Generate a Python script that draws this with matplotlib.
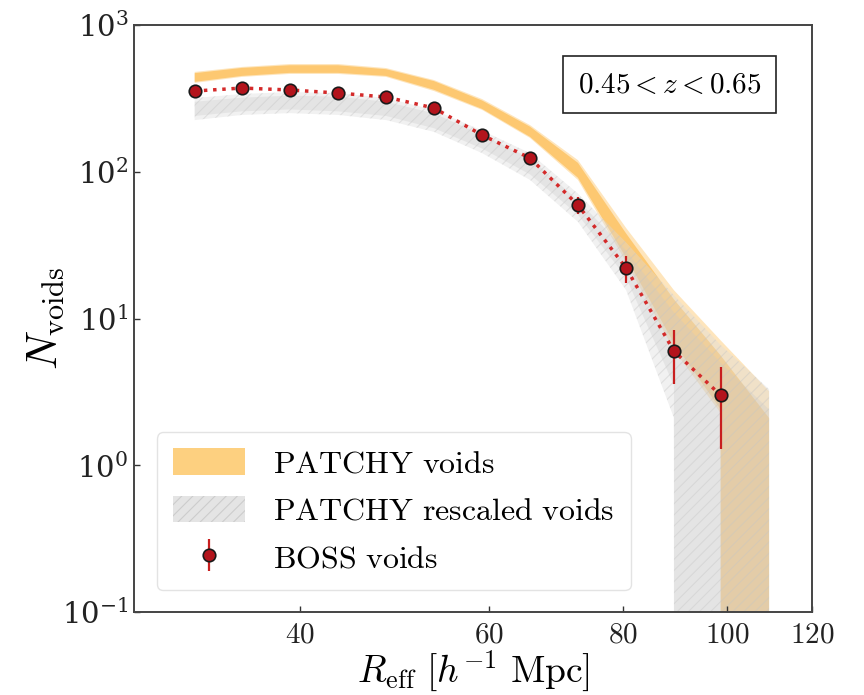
import matplotlib
matplotlib.use("Agg")
import matplotlib.pyplot as plt
from matplotlib.patches import Patch
from matplotlib.ticker import FixedLocator, FixedFormatter, NullLocator

plt.rcParams['mathtext.fontset'] = 'cm'
plt.rcParams['font.family'] = 'serif'
plt.rcParams['font.serif'] = ['DejaVu Serif']
plt.rcParams['hatch.color'] = '#c4c4c4'
plt.rcParams['hatch.linewidth'] = 0.8

# bin centres of the void radius histogram [Mpc/h]
r_eff = [31.9, 35.3, 39.1, 43.4, 48.1, 53.3, 59.1, 65.5, 72.6, 80.5, 89.2, 98.6, 109.4]

# BOSS void counts with errors
boss_n = [355, 372, 361, 344, 323, 272, 178, 124, 59.3, 22.1, 6.0, 3.0]
boss_err = [19, 19, 19, 19, 18, 16, 13, 11, 7.7, 4.7, 2.4, 1.7]

# PATCHY mocks: outer and inner bands
patchy_hi2 = [479, 518, 542, 542, 509, 422, 313, 208, 120, 41.4, 15.6, 7.1, 3.2]
patchy_lo2 = [403, 443, 464, 464, 443, 355, 264, 170, 88, 24.3, 6.1, 2.27, 0]
patchy_hi1 = [470, 510, 532, 532, 500, 415, 306, 203, 115, 38, 13.5, 5.6, 2.1]
patchy_lo1 = [410, 450, 472, 472, 450, 362, 268, 173, 91, 26, 6.8, 2.4, 0]

# PATCHY rescaled mocks: outer and inner bands
resc_hi2 = [318, 339, 349, 344, 318, 264, 191, 134, 71, 33, 14.4, 6.6, 3.3]
resc_lo2 = [225, 244, 251, 244, 225, 187, 134, 88, 45.6, 15.6, 2.1, 0, 0]
resc_hi1 = [300, 320, 330, 325, 300, 250, 178, 124, 64, 29, 11, 5.0, 2.4]
resc_lo1 = [240, 258, 266, 258, 240, 198, 144, 96, 51, 19, 3.5, 0, 0]

xticks = [40, 60, 80, 100, 120]

fig = plt.figure(figsize=(8.64, 6.95), dpi=100)
ax = fig.add_axes([0.155, 0.1194, 0.785, 0.8446])

ax.fill_between(r_eff, patchy_lo2, patchy_hi2, facecolor='#fdb53f', alpha=0.35,
                edgecolor='none', linewidth=0)
ax.fill_between(r_eff, patchy_lo1, patchy_hi1, facecolor='#fdb53f', alpha=0.6,
                edgecolor='none', linewidth=0)

ax.fill_between(r_eff, resc_lo2, resc_hi2, facecolor='#dcdcdc', alpha=0.4,
                hatch='///', edgecolor='#c4c4c4', linewidth=0)
ax.fill_between(r_eff, resc_lo1, resc_hi1, facecolor='#c8c8c8', alpha=0.3,
                edgecolor='none', linewidth=0)

ax.plot(r_eff[:len(boss_n)], boss_n, ls=':', color='#d42a2a', lw=2.5, zorder=4)
eb = ax.errorbar(r_eff[:len(boss_n)], boss_n, yerr=boss_err, fmt='o', color='#c81e1e',
                 mfc='#b3141c', mec='#1a1a1a', mew=1.2, ms=9, elinewidth=1.6,
                 capsize=0, zorder=5)

ax.set_xscale('log')
ax.set_yscale('log')
ax.set_xlim(28, 120)
ax.set_ylim(0.1, 1000)

ax.xaxis.set_major_locator(FixedLocator(xticks))
ax.xaxis.set_major_formatter(FixedFormatter(['$%d$' % t for t in xticks]))
ax.xaxis.set_minor_locator(NullLocator())
ax.yaxis.set_minor_locator(NullLocator())
ax.tick_params(direction='in', length=4, width=1, labelsize=21, colors='#333333',
               labelcolor='#222222')
ax.tick_params(axis='x', pad=6)
ax.tick_params(axis='y', pad=4)

for s in ax.spines.values():
    s.set_color('#444444')
    s.set_linewidth(1.4)

ax.set_xlabel(r'$R_{\rm eff}\ [h^{-1}\ {\rm Mpc}]$', fontsize=27, labelpad=0)
ax.set_ylabel(r'$N_{\rm voids}$', fontsize=31, labelpad=-4)

ax.text(0.79, 0.898, r'$0.45 < z < 0.65$', transform=ax.transAxes, fontsize=21,
        ha='center', va='center',
        bbox=dict(boxstyle='square,pad=0.5', facecolor='white', edgecolor='#222222', lw=1.2))

handles = [
    Patch(facecolor='#fdd080', edgecolor='none'),
    Patch(facecolor='#e4e4e4', hatch='///', edgecolor='#cccccc', linewidth=0),
    eb,
]
labels = [r'$\mathrm{PATCHY\ voids}$', r'$\mathrm{PATCHY\ rescaled\ voids}$',
          r'$\mathrm{BOSS\ voids}$']
leg = ax.legend(handles, labels, loc='lower left', fontsize=23, frameon=True,
                fancybox=True, handlelength=2.25, handleheight=0.9, labelspacing=0.5,
                borderpad=0.5, handletextpad=0.9, bbox_to_anchor=(0.01, 0.01))
leg.get_frame().set_edgecolor('#dddddd')
leg.get_frame().set_linewidth(1.0)

fig.savefig('out.png', dpi=100)
